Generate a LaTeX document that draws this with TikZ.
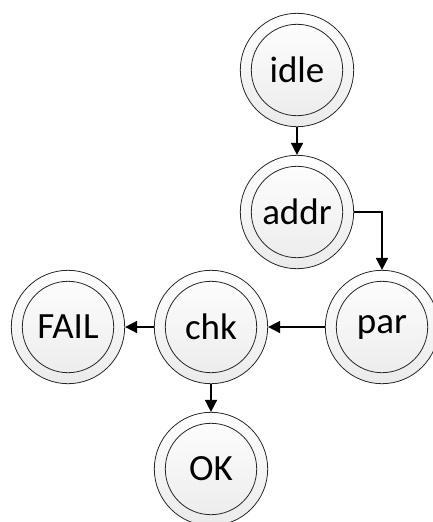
\documentclass[tikz,border=0pt]{standalone}
\usepackage{fontspec}
\setmainfont{Carlito}
\usetikzlibrary{arrows.meta}
\begin{document}
\begin{tikzpicture}[x=1pt,y=-1pt,
 state/.style={circle, draw=black!85, line width=0.8pt, minimum size=113.4pt, inner sep=0pt,
   top color=white, bottom color=black!8, font=\fontsize{37}{40}\selectfont,
   path picture={\draw[black!85,line width=0.8pt] (path picture bounding box.center) circle (45.7pt);}},
 flow/.style={-{Triangle[length=12pt,width=12pt]}, line width=1.6pt}]
\useasboundingbox (0,0) rectangle (432,522);
\node[state] (idle) at (297,70) {idle};
\node[state] (addr) at (297,212) {addr};
\node[state] (par) at (382,327) {par};
\node[state] (chk) at (211,327) {chk};
\node[state] (fail) at (68,327) {FAIL};
\node[state] (ok) at (211,469) {OK};
\draw[flow] (idle) -- (addr);
\draw[flow] (addr.east) -| (par.north);
\draw[flow] (par) -- (chk);
\draw[flow] (chk) -- (fail);
\draw[flow] (chk) -- (ok);
\end{tikzpicture}
\end{document}
